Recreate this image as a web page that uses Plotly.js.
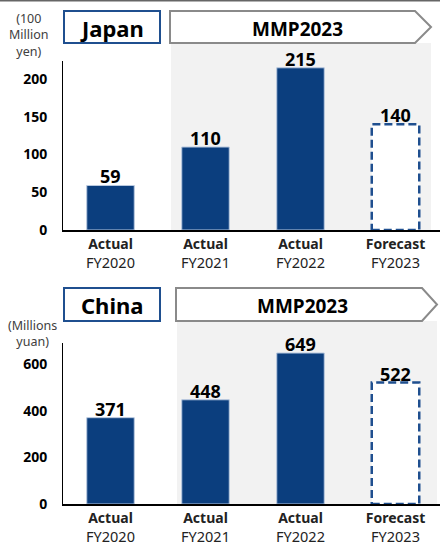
<!DOCTYPE html>
<html><head><meta charset="utf-8">
<script src="https://cdn.plot.ly/plotly-3.0.1.min.js"></script>
<style>html,body{margin:0;padding:0;background:#fff}#chart{width:440px;height:547px}</style>
</head><body><div id="chart"></div>
<script>
const categories = ["FY2020", "FY2021", "FY2022", "FY2023"];
const statusLabels = ["Actual", "Actual", "Actual", "Forecast"];
const japanValues = [59, 110, 215, 140];
const chinaValues = [371, 448, 649, 522];
const japanUnit = "(100<br>Million<br>yen)";
const chinaUnit = "(Millions<br>yuan)";
const japanTitle = "Japan";
const chinaTitle = "China";
const planTitle = "MMP2023";

const FONT = "Noto Sans, Open Sans, sans-serif";
const BLUE = "#0b3e7e";
const DASHBLUE = "#1f4f8f";
const idx = categories.map((_, i) => i);
const nActual = 3;
const halfW = 0.25;
const tickText = categories.map((c, i) => "<span style='font-size:14px'><b>" + statusLabels[i] + "</b></span><br>" + c);

function traces(values, xa, ya) {
  const aIdx = idx.slice(0, nActual), fIdx = idx.slice(nActual);
  return [
    {type: "bar", x: aIdx, y: values.slice(0, nActual), xaxis: xa, yaxis: ya,
     marker: {color: BLUE, line: {color: "#b9c9e0", width: 1}},
     hoverinfo: "skip", showlegend: false},
    {type: "bar", x: fIdx, y: values.slice(nActual), xaxis: xa, yaxis: ya,
     marker: {color: "#fff", line: {width: 0}},
     hoverinfo: "skip", showlegend: false}
  ];
}

function valueLabels(values, xr, yr) {
  return values.map((v, i) => ({
    xref: xr, yref: yr, x: i, y: v, text: "<b>" + v + "</b>", showarrow: false,
    xanchor: "center", yanchor: "bottom", yshift: -5,
    font: {size: 18, color: "#000", family: FONT}
  }));
}

function dashedShapes(values, xr, yr) {
  return idx.slice(nActual).map(i => ({
    type: "rect", xref: xr, yref: yr, x0: i - halfW, x1: i + halfW, y0: 0, y1: values[i],
    line: {color: DASHBLUE, width: 2.5, dash: "8px,4px"}, fillcolor: "rgba(0,0,0,0)", layer: "above"
  }));
}

const W = 440, H = 547;
const px = v => v / W, py = v => 1 - v / H;

function headerShapes(top, bot, boxL, boxR, arL, arR, arTip, grayL, grayR, grayBot) {
  const mid = (top + bot) / 2;
  return [
    {type: "rect", xref: "paper", yref: "paper", x0: px(grayL), x1: px(grayR), y0: py(grayBot), y1: py(bot),
     fillcolor: "#f2f2f2", line: {width: 0}, layer: "below"},
    {type: "rect", xref: "paper", yref: "paper", x0: px(boxL), x1: px(boxR), y0: py(bot), y1: py(top),
     fillcolor: "#fff", line: {color: "#1f4f8f", width: 2}},
    {type: "path", xref: "paper", yref: "paper",
     path: `M ${px(arL)} ${py(top)} L ${px(arR)} ${py(top)} L ${px(arTip)} ${py(mid)} L ${px(arR)} ${py(bot)} L ${px(arL)} ${py(bot)} Z`,
     fillcolor: "#fff", line: {color: "#8a8a8a", width: 2}}
  ];
}

const shapes = [
  {type: "line", xref: "paper", yref: "paper", x0: 0, x1: 1, y0: py(0.5), y1: py(0.5), line: {color: "#666", width: 2}},
  ...headerShapes(11, 43, 64, 160, 170, 415, 431, 171, 431, 230),
  ...headerShapes(288, 321, 64, 160, 176, 422, 437, 177, 437, 504),
  ...dashedShapes(japanValues, "x", "y"),
  ...dashedShapes(chinaValues, "x2", "y2")
];

const annotations = [
  {xref: "paper", yref: "paper", x: px(112), y: py(28), text: "<b>" + japanTitle + "</b>", showarrow: false,
   font: {size: 22, color: "#000", family: FONT}, xanchor: "center", yanchor: "middle"},
  {xref: "paper", yref: "paper", x: px(297), y: py(29), text: "<b>" + planTitle + "</b>", showarrow: false,
   font: {size: 19, color: "#000", family: FONT}, xanchor: "center", yanchor: "middle"},
  {xref: "paper", yref: "paper", x: px(112), y: py(305), text: "<b>" + chinaTitle + "</b>", showarrow: false,
   font: {size: 22, color: "#000", family: FONT}, xanchor: "center", yanchor: "middle"},
  {xref: "paper", yref: "paper", x: px(302), y: py(306), text: "<b>" + planTitle + "</b>", showarrow: false,
   font: {size: 19, color: "#000", family: FONT}, xanchor: "center", yanchor: "middle"},
  {xref: "paper", yref: "paper", x: px(29), y: py(35), text: japanUnit, showarrow: false,
   font: {size: 12.5, color: "#404040", family: FONT}, xanchor: "center", yanchor: "middle", align: "center"},
  {xref: "paper", yref: "paper", x: px(32), y: py(333), text: chinaUnit, showarrow: false,
   font: {size: 12.5, color: "#404040", family: FONT}, xanchor: "center", yanchor: "middle", align: "center"},
  ...valueLabels(japanValues, "x", "y"),
  ...valueLabels(chinaValues, "x2", "y2")
];

const xBase = {
  domain: [63 / W, 1], range: [-0.5, -0.5 + (W - 63) / 95],
  tickmode: "array", tickvals: idx, ticktext: tickText,
  showline: true, linecolor: "#000", linewidth: 2, ticks: "", showgrid: false, zeroline: false,
  tickfont: {size: 14.5, color: "#222", family: FONT}, ticklabelstandoff: 0, fixedrange: true
};
const yBase = {
  showline: true, linecolor: "#000", linewidth: 1, ticks: "", showgrid: false, zeroline: false,
  tickfont: {size: 14, color: "#000", family: FONT, weight: "bold"}, ticklabelstandoff: 12, fixedrange: true
};

const layout = {
  width: W, height: H, margin: {l: 0, r: 0, t: 0, b: 0},
  paper_bgcolor: "#fff", plot_bgcolor: "rgba(0,0,0,0)",
  font: {family: FONT},
  barmode: "overlay", bargap: 0.5,
  xaxis: Object.assign({}, xBase, {anchor: "y"}),
  yaxis: Object.assign({}, yBase, {domain: [py(230), py(61)], range: [0, 224], dtick: 50, anchor: "x"}),
  xaxis2: Object.assign({}, xBase, {anchor: "y2"}),
  yaxis2: Object.assign({}, yBase, {domain: [py(504), py(343)], range: [0, 692], dtick: 200, anchor: "x2"}),
  shapes: shapes, annotations: annotations, showlegend: false
};

const data = [...traces(japanValues, "x", "y"), ...traces(chinaValues, "x2", "y2")];
Plotly.newPlot("chart", data, layout, {staticPlot: true, displayModeBar: false});
</script></body></html>
